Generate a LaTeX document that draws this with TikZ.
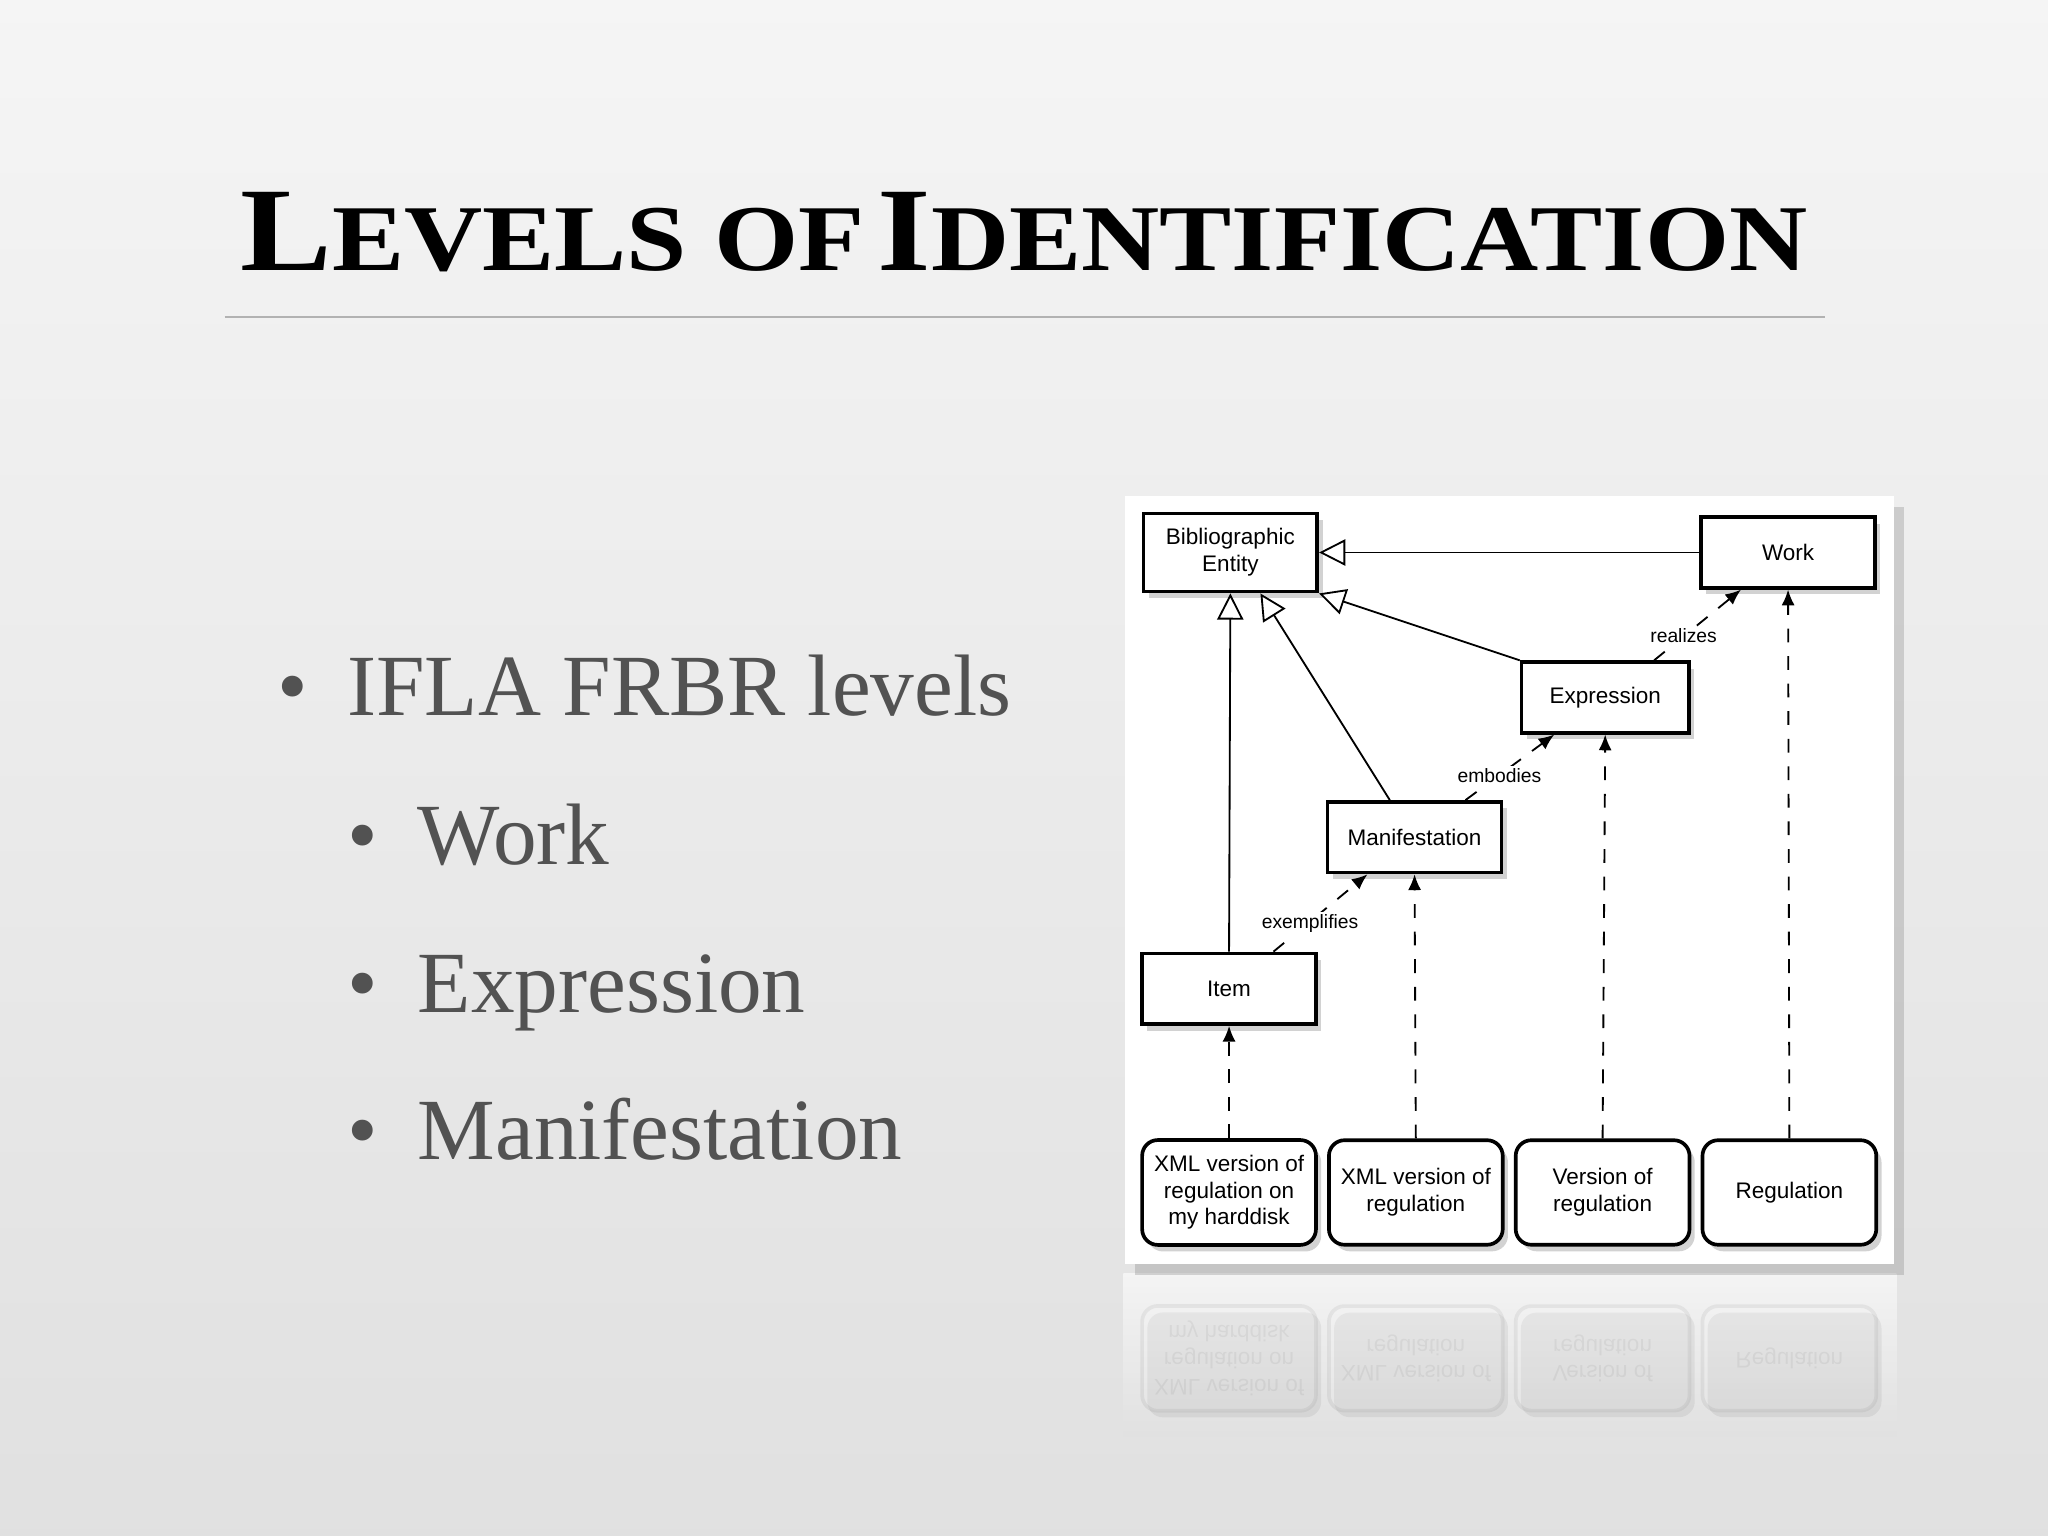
\documentclass[tikz,border=0pt]{standalone}
\usepackage{fontspec}
\setmainfont{Liberation Serif}
\newfontfamily\diagfont{Liberation Sans}
\usetikzlibrary{arrows.meta,shadows}
\newcommand{\bigc}[1]{{\fontsize{26}{30}\selectfont #1}}
\newcommand{\smc}[1]{{\fontsize{20.5}{30}\selectfont #1}}
\begin{document}
\begin{tikzpicture}[x=0.01cm,y=-0.01cm,
  box/.style={draw,thick,fill=white,minimum width=1.33cm,minimum height=0.54cm,inner xsep=1pt,align=center,font=\diagfont\fontsize{4.9}{5.8}\selectfont,drop shadow={opacity=0.35,shadow xshift=0.04cm,shadow yshift=-0.05cm}},
  rbox/.style={box,rounded corners=0.12cm,minimum height=0.8cm},
  gen/.style={thin,-{Triangle[open,length=0.2cm,width=0.2cm]}},
  dep/.style={thin,dashed,-{Latex[length=0.12cm,width=0.1cm]}},
  lbl/.style={font=\diagfont\fontsize{4.2}{5}\selectfont,fill=white,inner sep=0.5pt},
  bul/.style={anchor=base west,text=black!68,font=\fontsize{19}{23}\selectfont}]
\shade[top color=black!4,bottom color=black!12] (0,0) rectangle (1568,1176);
\useasboundingbox (0,0) rectangle (1568,1176);
\node[font=\bfseries,xscale=1.15,anchor=base] (title) at (784,207) {\bigc{L}\smc{EVELS OF} \bigc{I}\smc{DENTIFICATION}};
\draw[black!30,thin] (172,243) -- (1397,243);
\node[bul] (b1) at (200,548) {\textbullet\hspace{0.3cm}IFLA FRBR levels};
\node[bul] (b2) at (254,662) {\textbullet\hspace{0.3cm}Work};
\node[bul] (b3) at (254,775) {\textbullet\hspace{0.3cm}Expression};
\node[bul] (b4) at (254,888) {\textbullet\hspace{0.3cm}Manifestation};
% reflection
\begin{scope}[opacity=0.15]
\foreach \x/\t [count=\i] in {941/{XML version of\\regulation on\\my harddisk},1084/{XML version of\\regulation},1227/{Version of\\regulation},1370/{Regulation}}{
  \node[rbox,yscale=-1,transform shape,drop shadow={opacity=0}] (r\i) at (\x,1040) {\t};}
\end{scope}
\shade[top color=black!0,bottom color=black!12,opacity=0.6] (860,975) rectangle (1452,1100);
\fill[white,drop shadow={opacity=0.3}] (861,380) rectangle (1450,968);
\node[box] (bib) at (942,423) {Bibliographic\\Entity};
\node[box] (work) at (1369,423) {Work};
\node[box,minimum width=1.28cm] (expr) at (1229,534) {Expression};
\node[box] (man) at (1083,641) {Manifestation};
\node[box] (item) at (941,757) {Item};
\node[rbox] (s1) at (941,913) {XML version of\\regulation on\\my harddisk};
\node[rbox] (s2) at (1084,913) {XML version of\\regulation};
\node[rbox] (s3) at (1227,913) {Version of\\regulation};
\node[rbox] (s4) at (1370,913) {Regulation};
\draw[gen] (work.west) -- (bib.east);
\draw[gen] (expr.north west) -- (bib.south east);
\draw[gen] (man.north west) ++(0.49cm,0) -- ([xshift=0.23cm]bib.south);
\draw[gen] (item.north) -- (bib.south);
\coordinate (re1) at ([xshift=-0.28cm]expr.north east);
\coordinate (re2) at ([xshift=-0.36cm]work.south);
\draw[dep] (re1) -- (re2);
\node[lbl] (rl) at (1289,487) {realizes};
\coordinate (em1) at ([xshift=0.39cm]man.north);
\coordinate (em2) at ([xshift=-0.39cm]expr.south);
\draw[dep] (em1) -- (em2);
\node[lbl] (eml) at (1148,594) {embodies};
\coordinate (ex1) at ([xshift=0.34cm]item.north);
\coordinate (ex2) at ([xshift=-0.36cm]man.south);
\draw[dep] (ex1) -- (ex2);
\node[lbl] (exl) at (1003,707) {exemplifies};
\draw[dep] (s1.north) -- (item.south);
\draw[dep] (s2.north) -- (man.south);
\draw[dep] (s3.north) -- (expr.south);
\draw[dep] (s4.north) -- (work.south);
\end{tikzpicture}
\end{document}
